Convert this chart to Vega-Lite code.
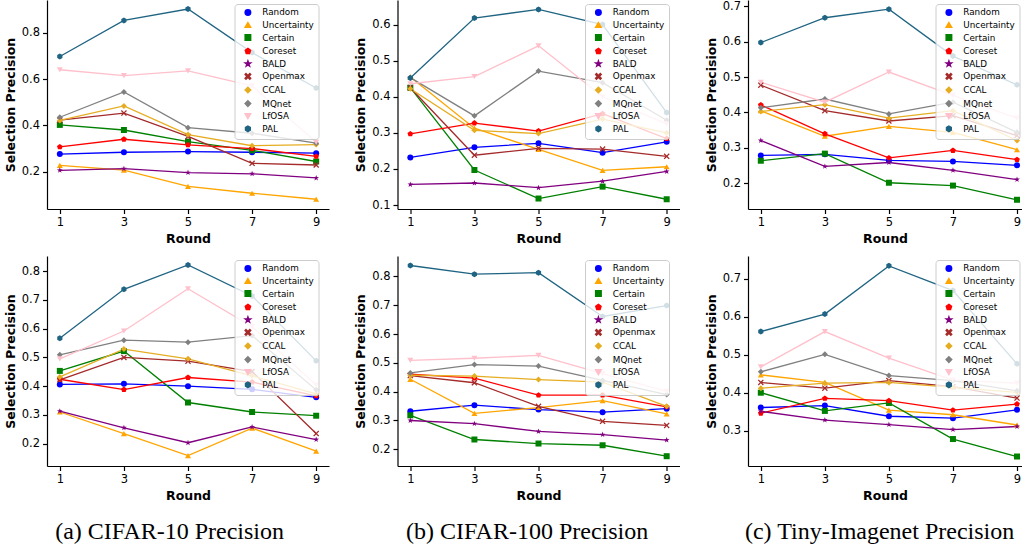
{
"$schema":"https://vega.github.io/schema/vega-lite/v6.json",
"background":"white",
"padding":{"left":4,"top":0,"right":0,"bottom":0},
"config":{
 "view":{"stroke":null},
 "font":"DejaVu Sans",
 "axis":{"grid":false,"domainColor":"black","domainWidth":1.2,"tickColor":"black","tickWidth":1.2,"tickSize":4.5,"labelColor":"black","labelFont":"DejaVu Sans","labelFontSize":11.5,"labelPadding":3,"titleColor":"black","titleFont":"DejaVu Sans","titleFontSize":12.5,"titleFontWeight":"bold","titlePadding":4},
 "legend":{"labelFont":"DejaVu Sans","labelFontSize":8.8,"labelColor":"black","symbolSize":30,"padding":4,"rowPadding":0.6,"labelOffset":10,"symbolOffset":5,"strokeColor":"#cccccc","fillColor":"rgba(255,255,255,0.8)","cornerRadius":3}
},
"datasets":{
"c10_top":[
{"method":"Random","round":1,"precision":0.276},{"method":"Random","round":3,"precision":0.284},{"method":"Random","round":5,"precision":0.287},{"method":"Random","round":7,"precision":0.284},{"method":"Random","round":9,"precision":0.280},
{"method":"Uncertainty","round":1,"precision":0.227},{"method":"Uncertainty","round":3,"precision":0.207},{"method":"Uncertainty","round":5,"precision":0.137},{"method":"Uncertainty","round":7,"precision":0.107},{"method":"Uncertainty","round":9,"precision":0.081},
{"method":"Certain","round":1,"precision":0.402},{"method":"Certain","round":3,"precision":0.380},{"method":"Certain","round":5,"precision":0.330},{"method":"Certain","round":7,"precision":0.292},{"method":"Certain","round":9,"precision":0.244},
{"method":"Coreset","round":1,"precision":0.307},{"method":"Coreset","round":3,"precision":0.340},{"method":"Coreset","round":5,"precision":0.316},{"method":"Coreset","round":7,"precision":0.300},{"method":"Coreset","round":9,"precision":0.266},
{"method":"BALD","round":1,"precision":0.206},{"method":"BALD","round":3,"precision":0.213},{"method":"BALD","round":5,"precision":0.196},{"method":"BALD","round":7,"precision":0.191},{"method":"BALD","round":9,"precision":0.173},
{"method":"Openmax","round":1,"precision":0.423},{"method":"Openmax","round":3,"precision":0.453},{"method":"Openmax","round":5,"precision":0.352},{"method":"Openmax","round":7,"precision":0.236},{"method":"Openmax","round":9,"precision":0.229},
{"method":"CCAL","round":1,"precision":0.421},{"method":"CCAL","round":3,"precision":0.484},{"method":"CCAL","round":5,"precision":0.360},{"method":"CCAL","round":7,"precision":0.312},{"method":"CCAL","round":9,"precision":0.317},
{"method":"MQnet","round":1,"precision":0.435},{"method":"MQnet","round":3,"precision":0.544},{"method":"MQnet","round":5,"precision":0.390},{"method":"MQnet","round":7,"precision":0.366},{"method":"MQnet","round":9,"precision":0.323},
{"method":"LfOSA","round":1,"precision":0.640},{"method":"LfOSA","round":3,"precision":0.615},{"method":"LfOSA","round":5,"precision":0.635},{"method":"LfOSA","round":7,"precision":0.570},{"method":"LfOSA","round":9,"precision":0.327},
{"method":"PAL","round":1,"precision":0.697},{"method":"PAL","round":3,"precision":0.853},{"method":"PAL","round":5,"precision":0.902},{"method":"PAL","round":7,"precision":0.714},{"method":"PAL","round":9,"precision":0.561}
],
"c100_top":[
{"method":"Random","round":1,"precision":0.232},{"method":"Random","round":3,"precision":0.260},{"method":"Random","round":5,"precision":0.271},{"method":"Random","round":7,"precision":0.245},{"method":"Random","round":9,"precision":0.275},
{"method":"Uncertainty","round":1,"precision":0.455},{"method":"Uncertainty","round":3,"precision":0.313},{"method":"Uncertainty","round":5,"precision":0.254},{"method":"Uncertainty","round":7,"precision":0.196},{"method":"Uncertainty","round":9,"precision":0.206},
{"method":"Certain","round":1,"precision":0.425},{"method":"Certain","round":3,"precision":0.197},{"method":"Certain","round":5,"precision":0.118},{"method":"Certain","round":7,"precision":0.151},{"method":"Certain","round":9,"precision":0.116},
{"method":"Coreset","round":1,"precision":0.297},{"method":"Coreset","round":3,"precision":0.327},{"method":"Coreset","round":5,"precision":0.305},{"method":"Coreset","round":7,"precision":0.353},{"method":"Coreset","round":9,"precision":0.284},
{"method":"BALD","round":1,"precision":0.157},{"method":"BALD","round":3,"precision":0.161},{"method":"BALD","round":5,"precision":0.148},{"method":"BALD","round":7,"precision":0.166},{"method":"BALD","round":9,"precision":0.193},
{"method":"Openmax","round":1,"precision":0.425},{"method":"Openmax","round":3,"precision":0.238},{"method":"Openmax","round":5,"precision":0.257},{"method":"Openmax","round":7,"precision":0.255},{"method":"Openmax","round":9,"precision":0.235},
{"method":"CCAL","round":1,"precision":0.422},{"method":"CCAL","round":3,"precision":0.307},{"method":"CCAL","round":5,"precision":0.298},{"method":"CCAL","round":7,"precision":0.338},{"method":"CCAL","round":9,"precision":0.300},
{"method":"MQnet","round":1,"precision":0.453},{"method":"MQnet","round":3,"precision":0.347},{"method":"MQnet","round":5,"precision":0.471},{"method":"MQnet","round":7,"precision":0.439},{"method":"MQnet","round":9,"precision":0.335},
{"method":"LfOSA","round":1,"precision":0.436},{"method":"LfOSA","round":3,"precision":0.456},{"method":"LfOSA","round":5,"precision":0.541},{"method":"LfOSA","round":7,"precision":0.400},{"method":"LfOSA","round":9,"precision":0.325},
{"method":"PAL","round":1,"precision":0.452},{"method":"PAL","round":3,"precision":0.618},{"method":"PAL","round":5,"precision":0.642},{"method":"PAL","round":7,"precision":0.600},{"method":"PAL","round":9,"precision":0.356}
],
"tiny_top":[
{"method":"Random","round":1,"precision":0.279},{"method":"Random","round":3,"precision":0.282},{"method":"Random","round":5,"precision":0.265},{"method":"Random","round":7,"precision":0.262},{"method":"Random","round":9,"precision":0.251},
{"method":"Uncertainty","round":1,"precision":0.405},{"method":"Uncertainty","round":3,"precision":0.333},{"method":"Uncertainty","round":5,"precision":0.361},{"method":"Uncertainty","round":7,"precision":0.344},{"method":"Uncertainty","round":9,"precision":0.295},
{"method":"Certain","round":1,"precision":0.264},{"method":"Certain","round":3,"precision":0.284},{"method":"Certain","round":5,"precision":0.202},{"method":"Certain","round":7,"precision":0.194},{"method":"Certain","round":9,"precision":0.154},
{"method":"Coreset","round":1,"precision":0.421},{"method":"Coreset","round":3,"precision":0.340},{"method":"Coreset","round":5,"precision":0.272},{"method":"Coreset","round":7,"precision":0.293},{"method":"Coreset","round":9,"precision":0.267},
{"method":"BALD","round":1,"precision":0.321},{"method":"BALD","round":3,"precision":0.248},{"method":"BALD","round":5,"precision":0.259},{"method":"BALD","round":7,"precision":0.237},{"method":"BALD","round":9,"precision":0.211},
{"method":"Openmax","round":1,"precision":0.477},{"method":"Openmax","round":3,"precision":0.405},{"method":"Openmax","round":5,"precision":0.376},{"method":"Openmax","round":7,"precision":0.391},{"method":"Openmax","round":9,"precision":0.335},
{"method":"CCAL","round":1,"precision":0.403},{"method":"CCAL","round":3,"precision":0.422},{"method":"CCAL","round":5,"precision":0.384},{"method":"CCAL","round":7,"precision":0.405},{"method":"CCAL","round":9,"precision":0.321},
{"method":"MQnet","round":1,"precision":0.413},{"method":"MQnet","round":3,"precision":0.438},{"method":"MQnet","round":5,"precision":0.396},{"method":"MQnet","round":7,"precision":0.429},{"method":"MQnet","round":9,"precision":0.344},
{"method":"LfOSA","round":1,"precision":0.485},{"method":"LfOSA","round":3,"precision":0.429},{"method":"LfOSA","round":5,"precision":0.514},{"method":"LfOSA","round":7,"precision":0.448},{"method":"LfOSA","round":9,"precision":0.384},
{"method":"PAL","round":1,"precision":0.597},{"method":"PAL","round":3,"precision":0.667},{"method":"PAL","round":5,"precision":0.691},{"method":"PAL","round":7,"precision":0.559},{"method":"PAL","round":9,"precision":0.478}
],
"c10_bottom":[
{"method":"Random","round":1,"precision":0.406},{"method":"Random","round":3,"precision":0.408},{"method":"Random","round":5,"precision":0.400},{"method":"Random","round":7,"precision":0.389},{"method":"Random","round":9,"precision":0.361},
{"method":"Uncertainty","round":1,"precision":0.310},{"method":"Uncertainty","round":3,"precision":0.235},{"method":"Uncertainty","round":5,"precision":0.158},{"method":"Uncertainty","round":7,"precision":0.254},{"method":"Uncertainty","round":9,"precision":0.174},
{"method":"Certain","round":1,"precision":0.453},{"method":"Certain","round":3,"precision":0.522},{"method":"Certain","round":5,"precision":0.343},{"method":"Certain","round":7,"precision":0.310},{"method":"Certain","round":9,"precision":0.297},
{"method":"Coreset","round":1,"precision":0.424},{"method":"Coreset","round":3,"precision":0.388},{"method":"Coreset","round":5,"precision":0.430},{"method":"Coreset","round":7,"precision":0.414},{"method":"Coreset","round":9,"precision":0.366},
{"method":"BALD","round":1,"precision":0.313},{"method":"BALD","round":3,"precision":0.255},{"method":"BALD","round":5,"precision":0.203},{"method":"BALD","round":7,"precision":0.258},{"method":"BALD","round":9,"precision":0.214},
{"method":"Openmax","round":1,"precision":0.422},{"method":"Openmax","round":3,"precision":0.500},{"method":"Openmax","round":5,"precision":0.487},{"method":"Openmax","round":7,"precision":0.451},{"method":"Openmax","round":9,"precision":0.235},
{"method":"CCAL","round":1,"precision":0.432},{"method":"CCAL","round":3,"precision":0.529},{"method":"CCAL","round":5,"precision":0.495},{"method":"CCAL","round":7,"precision":0.436},{"method":"CCAL","round":9,"precision":0.373},
{"method":"MQnet","round":1,"precision":0.509},{"method":"MQnet","round":3,"precision":0.560},{"method":"MQnet","round":5,"precision":0.553},{"method":"MQnet","round":7,"precision":0.576},{"method":"MQnet","round":9,"precision":0.387},
{"method":"LfOSA","round":1,"precision":0.495},{"method":"LfOSA","round":3,"precision":0.592},{"method":"LfOSA","round":5,"precision":0.739},{"method":"LfOSA","round":7,"precision":0.607},{"method":"LfOSA","round":9,"precision":0.404},
{"method":"PAL","round":1,"precision":0.567},{"method":"PAL","round":3,"precision":0.737},{"method":"PAL","round":5,"precision":0.822},{"method":"PAL","round":7,"precision":0.714},{"method":"PAL","round":9,"precision":0.488}
],
"c100_bottom":[
{"method":"Random","round":1,"precision":0.332},{"method":"Random","round":3,"precision":0.353},{"method":"Random","round":5,"precision":0.338},{"method":"Random","round":7,"precision":0.329},{"method":"Random","round":9,"precision":0.341},
{"method":"Uncertainty","round":1,"precision":0.443},{"method":"Uncertainty","round":3,"precision":0.325},{"method":"Uncertainty","round":5,"precision":0.345},{"method":"Uncertainty","round":7,"precision":0.369},{"method":"Uncertainty","round":9,"precision":0.323},
{"method":"Certain","round":1,"precision":0.318},{"method":"Certain","round":3,"precision":0.234},{"method":"Certain","round":5,"precision":0.220},{"method":"Certain","round":7,"precision":0.214},{"method":"Certain","round":9,"precision":0.176},
{"method":"Coreset","round":1,"precision":0.461},{"method":"Coreset","round":3,"precision":0.447},{"method":"Coreset","round":5,"precision":0.388},{"method":"Coreset","round":7,"precision":0.388},{"method":"Coreset","round":9,"precision":0.347},
{"method":"BALD","round":1,"precision":0.300},{"method":"BALD","round":3,"precision":0.289},{"method":"BALD","round":5,"precision":0.262},{"method":"BALD","round":7,"precision":0.251},{"method":"BALD","round":9,"precision":0.232},
{"method":"Openmax","round":1,"precision":0.456},{"method":"Openmax","round":3,"precision":0.431},{"method":"Openmax","round":5,"precision":0.349},{"method":"Openmax","round":7,"precision":0.297},{"method":"Openmax","round":9,"precision":0.283},
{"method":"CCAL","round":1,"precision":0.457},{"method":"CCAL","round":3,"precision":0.454},{"method":"CCAL","round":5,"precision":0.442},{"method":"CCAL","round":7,"precision":0.433},{"method":"CCAL","round":9,"precision":0.349},
{"method":"MQnet","round":1,"precision":0.465},{"method":"MQnet","round":3,"precision":0.494},{"method":"MQnet","round":5,"precision":0.489},{"method":"MQnet","round":7,"precision":0.439},{"method":"MQnet","round":9,"precision":0.390},
{"method":"LfOSA","round":1,"precision":0.509},{"method":"LfOSA","round":3,"precision":0.516},{"method":"LfOSA","round":5,"precision":0.526},{"method":"LfOSA","round":7,"precision":0.463},{"method":"LfOSA","round":9,"precision":0.401},
{"method":"PAL","round":1,"precision":0.838},{"method":"PAL","round":3,"precision":0.808},{"method":"PAL","round":5,"precision":0.813},{"method":"PAL","round":7,"precision":0.661},{"method":"PAL","round":9,"precision":0.699}
],
"tiny_bottom":[
{"method":"Random","round":1,"precision":0.361},{"method":"Random","round":3,"precision":0.366},{"method":"Random","round":5,"precision":0.338},{"method":"Random","round":7,"precision":0.333},{"method":"Random","round":9,"precision":0.355},
{"method":"Uncertainty","round":1,"precision":0.447},{"method":"Uncertainty","round":3,"precision":0.427},{"method":"Uncertainty","round":5,"precision":0.354},{"method":"Uncertainty","round":7,"precision":0.342},{"method":"Uncertainty","round":9,"precision":0.315},
{"method":"Certain","round":1,"precision":0.400},{"method":"Certain","round":3,"precision":0.352},{"method":"Certain","round":5,"precision":0.373},{"method":"Certain","round":7,"precision":0.278},{"method":"Certain","round":9,"precision":0.232},
{"method":"Coreset","round":1,"precision":0.346},{"method":"Coreset","round":3,"precision":0.385},{"method":"Coreset","round":5,"precision":0.379},{"method":"Coreset","round":7,"precision":0.354},{"method":"Coreset","round":9,"precision":0.370},
{"method":"BALD","round":1,"precision":0.351},{"method":"BALD","round":3,"precision":0.328},{"method":"BALD","round":5,"precision":0.316},{"method":"BALD","round":7,"precision":0.303},{"method":"BALD","round":9,"precision":0.311},
{"method":"Openmax","round":1,"precision":0.427},{"method":"Openmax","round":3,"precision":0.412},{"method":"Openmax","round":5,"precision":0.432},{"method":"Openmax","round":7,"precision":0.416},{"method":"Openmax","round":9,"precision":0.386},
{"method":"CCAL","round":1,"precision":0.412},{"method":"CCAL","round":3,"precision":0.425},{"method":"CCAL","round":5,"precision":0.427},{"method":"CCAL","round":7,"precision":0.414},{"method":"CCAL","round":9,"precision":0.401},
{"method":"MQnet","round":1,"precision":0.455},{"method":"MQnet","round":3,"precision":0.501},{"method":"MQnet","round":5,"precision":0.445},{"method":"MQnet","round":7,"precision":0.432},{"method":"MQnet","round":9,"precision":0.405},
{"method":"LfOSA","round":1,"precision":0.468},{"method":"LfOSA","round":3,"precision":0.561},{"method":"LfOSA","round":5,"precision":0.491},{"method":"LfOSA","round":7,"precision":0.433},{"method":"LfOSA","round":9,"precision":0.425},
{"method":"PAL","round":1,"precision":0.561},{"method":"PAL","round":3,"precision":0.607},{"method":"PAL","round":5,"precision":0.734},{"method":"PAL","round":7,"precision":0.669},{"method":"PAL","round":9,"precision":0.476}
]
},
"resolve":{"scale":{"color":"independent","shape":"independent"},"legend":{"color":"independent","shape":"independent"}},
"spacing":25.5,
"hconcat":[
{"title":{"text":"(a) CIFAR-10 Precision","orient":"bottom","font":"Liberation Serif","fontSize":24,"fontWeight":"normal","color":"black","offset":18,"anchor":"middle","dx":3},
 "resolve":{"scale":{"color":"independent","shape":"independent"},"legend":{"color":"independent","shape":"independent"}},
 "spacing":11,
 "vconcat":[
 {"width":282,"height":209,"data":{"name":"c10_top"},
  "encoding":{
   "x":{"field":"round","type":"quantitative","scale":{"domain":[0.6,9.4],"nice":false,"zero":false},"axis":{"values":[1,3,5,7,9],"format":"d","title":"Round"}},
   "y":{"field":"precision","type":"quantitative","scale":{"domain":[0.039,0.941],"nice":false,"zero":false},"axis":{"values":[0.2,0.4,0.6,0.8],"format":".1f","title":"Selection Precision"}},
   "color":{"field":"method","type":"nominal","scale":{"domain":["Random","Uncertainty","Certain","Coreset","BALD","Openmax","CCAL","MQnet","LfOSA","PAL"],"range":["#0000ff","#ffa500","#008000","#ff0000","#800080","#a52a2a","#e6ad22","#808080","#ffc0cb","#1f6482"]},"legend":{"title":null,"orient":"none","legendX":187.5,"legendY":4}}},
  "layer":[
   {"mark":{"type":"line","strokeWidth":1.3},"encoding":{}},
   {"mark":{"type":"point","filled":true,"size":36,"opacity":1},"encoding":{"shape":{"field":"method","type":"nominal","scale":{"domain":["Random","Uncertainty","Certain","Coreset","BALD","Openmax","CCAL","MQnet","LfOSA","PAL"],"range":["circle","triangle-up","square","M0,-1L0.951,-0.309L0.588,0.809L-0.588,0.809L-0.951,-0.309Z","M0,-1L0.235,-0.324L0.951,-0.309L0.38,0.124L0.588,0.809L0,0.4L-0.588,0.809L-0.38,0.124L-0.951,-0.309L-0.235,-0.324Z","M-1,-0.7L-0.7,-1L0,-0.3L0.7,-1L1,-0.7L0.3,0L1,0.7L0.7,1L0,0.3L-0.7,1L-1,0.7L-0.3,0Z","diamond","diamond","triangle-down","M0,-1L0.866,-0.5L0.866,0.5L0,1L-0.866,0.5L-0.866,-0.5Z"]},"legend":{"title":null,"orient":"none","legendX":187.5,"legendY":4}}}}
  ]},
 {"width":282,"height":210,"data":{"name":"c10_bottom"},
  "encoding":{
   "x":{"field":"round","type":"quantitative","scale":{"domain":[0.6,9.4],"nice":false,"zero":false},"axis":{"values":[1,3,5,7,9],"format":"d","title":"Round"}},
   "y":{"field":"precision","type":"quantitative","scale":{"domain":[0.122,0.853],"nice":false,"zero":false},"axis":{"values":[0.2,0.3,0.4,0.5,0.6,0.7,0.8],"format":".1f","title":"Selection Precision"}},
   "color":{"field":"method","type":"nominal","scale":{"domain":["Random","Uncertainty","Certain","Coreset","BALD","Openmax","CCAL","MQnet","LfOSA","PAL"],"range":["#0000ff","#ffa500","#008000","#ff0000","#800080","#a52a2a","#e6ad22","#808080","#ffc0cb","#1f6482"]},"legend":{"title":null,"orient":"none","legendX":187.5,"legendY":4}}},
  "layer":[
   {"mark":{"type":"line","strokeWidth":1.3},"encoding":{}},
   {"mark":{"type":"point","filled":true,"size":36,"opacity":1},"encoding":{"shape":{"field":"method","type":"nominal","scale":{"domain":["Random","Uncertainty","Certain","Coreset","BALD","Openmax","CCAL","MQnet","LfOSA","PAL"],"range":["circle","triangle-up","square","M0,-1L0.951,-0.309L0.588,0.809L-0.588,0.809L-0.951,-0.309Z","M0,-1L0.235,-0.324L0.951,-0.309L0.38,0.124L0.588,0.809L0,0.4L-0.588,0.809L-0.38,0.124L-0.951,-0.309L-0.235,-0.324Z","M-1,-0.7L-0.7,-1L0,-0.3L0.7,-1L1,-0.7L0.3,0L1,0.7L0.7,1L0,0.3L-0.7,1L-1,0.7L-0.3,0Z","diamond","diamond","triangle-down","M0,-1L0.866,-0.5L0.866,0.5L0,1L-0.866,0.5L-0.866,-0.5Z"]},"legend":{"title":null,"orient":"none","legendX":187.5,"legendY":4}}}}
  ]}
 ]},
{"title":{"text":"(b) CIFAR-100 Precision","orient":"bottom","font":"Liberation Serif","fontSize":24,"fontWeight":"normal","color":"black","offset":18,"anchor":"middle","dx":10},
 "resolve":{"scale":{"color":"independent","shape":"independent"},"legend":{"color":"independent","shape":"independent"}},
 "spacing":11,
 "vconcat":[
 {"width":282,"height":209,"data":{"name":"c100_top"},
  "encoding":{
   "x":{"field":"round","type":"quantitative","scale":{"domain":[0.6,9.4],"nice":false,"zero":false},"axis":{"values":[1,3,5,7,9],"format":"d","title":"Round"}},
   "y":{"field":"precision","type":"quantitative","scale":{"domain":[0.089,0.668],"nice":false,"zero":false},"axis":{"values":[0.1,0.2,0.3,0.4,0.5,0.6],"format":".1f","title":"Selection Precision"}},
   "color":{"field":"method","type":"nominal","scale":{"domain":["Random","Uncertainty","Certain","Coreset","BALD","Openmax","CCAL","MQnet","LfOSA","PAL"],"range":["#0000ff","#ffa500","#008000","#ff0000","#800080","#a52a2a","#e6ad22","#808080","#ffc0cb","#1f6482"]},"legend":{"title":null,"orient":"none","legendX":187.5,"legendY":4}}},
  "layer":[
   {"mark":{"type":"line","strokeWidth":1.3},"encoding":{}},
   {"mark":{"type":"point","filled":true,"size":36,"opacity":1},"encoding":{"shape":{"field":"method","type":"nominal","scale":{"domain":["Random","Uncertainty","Certain","Coreset","BALD","Openmax","CCAL","MQnet","LfOSA","PAL"],"range":["circle","triangle-up","square","M0,-1L0.951,-0.309L0.588,0.809L-0.588,0.809L-0.951,-0.309Z","M0,-1L0.235,-0.324L0.951,-0.309L0.38,0.124L0.588,0.809L0,0.4L-0.588,0.809L-0.38,0.124L-0.951,-0.309L-0.235,-0.324Z","M-1,-0.7L-0.7,-1L0,-0.3L0.7,-1L1,-0.7L0.3,0L1,0.7L0.7,1L0,0.3L-0.7,1L-1,0.7L-0.3,0Z","diamond","diamond","triangle-down","M0,-1L0.866,-0.5L0.866,0.5L0,1L-0.866,0.5L-0.866,-0.5Z"]},"legend":{"title":null,"orient":"none","legendX":187.5,"legendY":4}}}}
  ]},
 {"width":282,"height":210,"data":{"name":"c100_bottom"},
  "encoding":{
   "x":{"field":"round","type":"quantitative","scale":{"domain":[0.6,9.4],"nice":false,"zero":false},"axis":{"values":[1,3,5,7,9],"format":"d","title":"Round"}},
   "y":{"field":"precision","type":"quantitative","scale":{"domain":[0.142,0.871],"nice":false,"zero":false},"axis":{"values":[0.2,0.3,0.4,0.5,0.6,0.7,0.8],"format":".1f","title":"Selection Precision"}},
   "color":{"field":"method","type":"nominal","scale":{"domain":["Random","Uncertainty","Certain","Coreset","BALD","Openmax","CCAL","MQnet","LfOSA","PAL"],"range":["#0000ff","#ffa500","#008000","#ff0000","#800080","#a52a2a","#e6ad22","#808080","#ffc0cb","#1f6482"]},"legend":{"title":null,"orient":"none","legendX":187.5,"legendY":4}}},
  "layer":[
   {"mark":{"type":"line","strokeWidth":1.3},"encoding":{}},
   {"mark":{"type":"point","filled":true,"size":36,"opacity":1},"encoding":{"shape":{"field":"method","type":"nominal","scale":{"domain":["Random","Uncertainty","Certain","Coreset","BALD","Openmax","CCAL","MQnet","LfOSA","PAL"],"range":["circle","triangle-up","square","M0,-1L0.951,-0.309L0.588,0.809L-0.588,0.809L-0.951,-0.309Z","M0,-1L0.235,-0.324L0.951,-0.309L0.38,0.124L0.588,0.809L0,0.4L-0.588,0.809L-0.38,0.124L-0.951,-0.309L-0.235,-0.324Z","M-1,-0.7L-0.7,-1L0,-0.3L0.7,-1L1,-0.7L0.3,0L1,0.7L0.7,1L0,0.3L-0.7,1L-1,0.7L-0.3,0Z","diamond","diamond","triangle-down","M0,-1L0.866,-0.5L0.866,0.5L0,1L-0.866,0.5L-0.866,-0.5Z"]},"legend":{"title":null,"orient":"none","legendX":187.5,"legendY":4}}}}
  ]}
 ]},
{"title":{"text":"(c) Tiny-Imagenet Precision","orient":"bottom","font":"Liberation Serif","fontSize":24,"fontWeight":"normal","color":"black","offset":18,"anchor":"middle","dx":16},
 "resolve":{"scale":{"color":"independent","shape":"independent"},"legend":{"color":"independent","shape":"independent"}},
 "spacing":11,
 "vconcat":[
 {"width":274,"height":209,"data":{"name":"tiny_top"},
  "encoding":{
   "x":{"field":"round","type":"quantitative","scale":{"domain":[0.6,9.156],"nice":false,"zero":false},"axis":{"values":[1,3,5,7,9],"format":"d","title":"Round"}},
   "y":{"field":"precision","type":"quantitative","scale":{"domain":[0.128,0.717],"nice":false,"zero":false},"axis":{"values":[0.2,0.3,0.4,0.5,0.6,0.7],"format":".1f","title":"Selection Precision"}},
   "color":{"field":"method","type":"nominal","scale":{"domain":["Random","Uncertainty","Certain","Coreset","BALD","Openmax","CCAL","MQnet","LfOSA","PAL"],"range":["#0000ff","#ffa500","#008000","#ff0000","#800080","#a52a2a","#e6ad22","#808080","#ffc0cb","#1f6482"]},"legend":{"title":null,"orient":"none","legendX":187.5,"legendY":4}}},
  "layer":[
   {"mark":{"type":"line","strokeWidth":1.3},"encoding":{}},
   {"mark":{"type":"point","filled":true,"size":36,"opacity":1},"encoding":{"shape":{"field":"method","type":"nominal","scale":{"domain":["Random","Uncertainty","Certain","Coreset","BALD","Openmax","CCAL","MQnet","LfOSA","PAL"],"range":["circle","triangle-up","square","M0,-1L0.951,-0.309L0.588,0.809L-0.588,0.809L-0.951,-0.309Z","M0,-1L0.235,-0.324L0.951,-0.309L0.38,0.124L0.588,0.809L0,0.4L-0.588,0.809L-0.38,0.124L-0.951,-0.309L-0.235,-0.324Z","M-1,-0.7L-0.7,-1L0,-0.3L0.7,-1L1,-0.7L0.3,0L1,0.7L0.7,1L0,0.3L-0.7,1L-1,0.7L-0.3,0Z","diamond","diamond","triangle-down","M0,-1L0.866,-0.5L0.866,0.5L0,1L-0.866,0.5L-0.866,-0.5Z"]},"legend":{"title":null,"orient":"none","legendX":187.5,"legendY":4}}}}
  ]},
 {"width":274,"height":210,"data":{"name":"tiny_bottom"},
  "encoding":{
   "x":{"field":"round","type":"quantitative","scale":{"domain":[0.6,9.156],"nice":false,"zero":false},"axis":{"values":[1,3,5,7,9],"format":"d","title":"Round"}},
   "y":{"field":"precision","type":"quantitative","scale":{"domain":[0.207,0.76],"nice":false,"zero":false},"axis":{"values":[0.3,0.4,0.5,0.6,0.7],"format":".1f","title":"Selection Precision"}},
   "color":{"field":"method","type":"nominal","scale":{"domain":["Random","Uncertainty","Certain","Coreset","BALD","Openmax","CCAL","MQnet","LfOSA","PAL"],"range":["#0000ff","#ffa500","#008000","#ff0000","#800080","#a52a2a","#e6ad22","#808080","#ffc0cb","#1f6482"]},"legend":{"title":null,"orient":"none","legendX":187.5,"legendY":4}}},
  "layer":[
   {"mark":{"type":"line","strokeWidth":1.3},"encoding":{}},
   {"mark":{"type":"point","filled":true,"size":36,"opacity":1},"encoding":{"shape":{"field":"method","type":"nominal","scale":{"domain":["Random","Uncertainty","Certain","Coreset","BALD","Openmax","CCAL","MQnet","LfOSA","PAL"],"range":["circle","triangle-up","square","M0,-1L0.951,-0.309L0.588,0.809L-0.588,0.809L-0.951,-0.309Z","M0,-1L0.235,-0.324L0.951,-0.309L0.38,0.124L0.588,0.809L0,0.4L-0.588,0.809L-0.38,0.124L-0.951,-0.309L-0.235,-0.324Z","M-1,-0.7L-0.7,-1L0,-0.3L0.7,-1L1,-0.7L0.3,0L1,0.7L0.7,1L0,0.3L-0.7,1L-1,0.7L-0.3,0Z","diamond","diamond","triangle-down","M0,-1L0.866,-0.5L0.866,0.5L0,1L-0.866,0.5L-0.866,-0.5Z"]},"legend":{"title":null,"orient":"none","legendX":187.5,"legendY":4}}}}
  ]}
 ]}
]
}
